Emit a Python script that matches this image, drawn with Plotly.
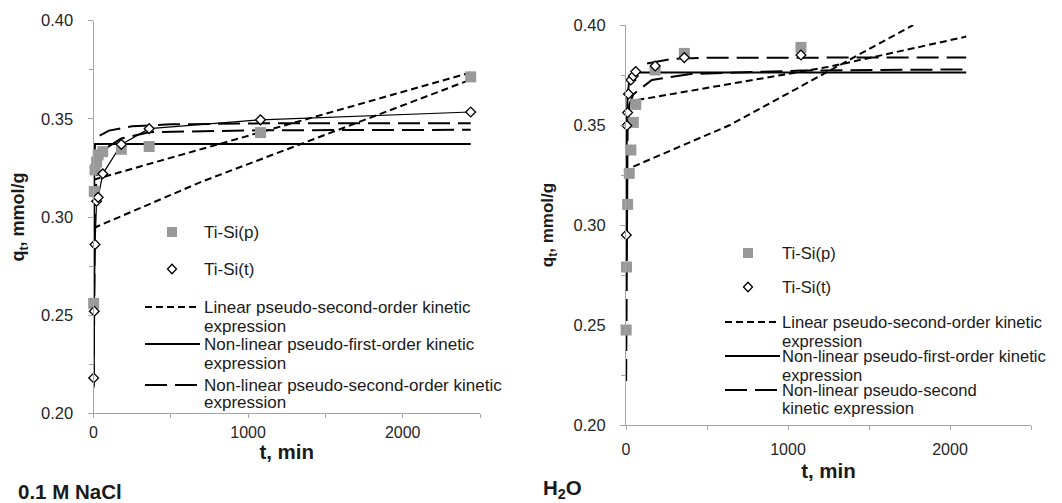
import plotly.graph_objects as go

# ---------------- data: 0.1 M NaCl (left panel) ----------------
tp_nacl = [1, 5, 10, 20, 30, 60, 180, 360, 1080, 2440]
qp_nacl = [0.256, 0.313, 0.324, 0.328, 0.3316, 0.3333, 0.3345, 0.3359, 0.343, 0.3714]
tt_nacl = [1, 5, 10, 20, 30, 60, 180, 360, 1080, 2440]
qt_nacl = [0.218, 0.252, 0.286, 0.308, 0.310, 0.322, 0.337, 0.345, 0.3495, 0.3535]

lin_a_t_nacl = [1, 1080, 2440]
lin_a_q_nacl = [0.319, 0.343, 0.3736]
lin_b_t_nacl = [1, 700, 2440]
lin_b_q_nacl = [0.2944, 0.318, 0.370]
pfo_t_nacl = [1, 3, 5, 10, 60, 360, 1080, 2440]
pfo_q_nacl = [0.213, 0.300, 0.330, 0.3372, 0.3372, 0.3372, 0.3372, 0.3372]
pso_a_t_nacl = [40, 100, 250, 500, 1080, 2440]
pso_a_q_nacl = [0.3415, 0.344, 0.3462, 0.3472, 0.3477, 0.3478]
pso_b_t_nacl = [1, 5, 10, 30, 60, 180, 360, 1080, 2440]
pso_b_q_nacl = [0.214, 0.28, 0.31, 0.328, 0.334, 0.340, 0.3432, 0.3442, 0.3444]

# ---------------- data: H2O (right panel) ----------------
tp_h2o = [1, 3, 10, 20, 30, 45, 60, 180, 360, 1080]
qp_h2o = [0.2475, 0.279, 0.3103, 0.3258, 0.3375, 0.3513, 0.3603, 0.3775, 0.3858, 0.3888]
tt_h2o = [2, 5, 10, 15, 30, 45, 60, 180, 360, 1080]
qt_h2o = [0.295, 0.3497, 0.3562, 0.3655, 0.3725, 0.3745, 0.3767, 0.3795, 0.3837, 0.385]

lin_a_t_h2o = [70, 1260, 2100]
lin_a_q_h2o = [0.3625, 0.3792, 0.3942]
lin_b_t_h2o = [45, 642, 1773]
lin_b_q_h2o = [0.3292, 0.350, 0.400]
pfo_t_h2o = [1, 3, 5, 10, 20, 30, 60, 360, 1080, 2100]
pfo_q_h2o = [0.305, 0.335, 0.350, 0.365, 0.372, 0.375, 0.3762, 0.3762, 0.3762, 0.3762]
pso_a_t_h2o = [130, 280, 500, 1080, 2100]
pso_a_q_h2o = [0.3808, 0.3830, 0.3836, 0.3838, 0.3838]
pso_b_t_h2o = [1, 3, 5, 10, 20, 45, 100, 160, 400, 1080, 2100]
pso_b_q_h2o = [0.222, 0.28, 0.32, 0.35, 0.36, 0.3653, 0.3688, 0.3725, 0.3755, 0.3772, 0.3778]

# ---------------- labels ----------------
series_names = ["Ti-Si(p)", "Ti-Si(t)"]
legend_text_left = [["Ti-Si(p)"], ["Ti-Si(t)"],
                    ["Linear pseudo-second-order kinetic", "expression"],
                    ["Non-linear pseudo-first-order kinetic", "expression"],
                    ["Non-linear pseudo-second-order kinetic", "expression"]]
legend_text_right = [["Ti-Si(p)"], ["Ti-Si(t)"],
                     ["Linear pseudo-second-order kinetic", "expression"],
                     ["Non-linear pseudo-first-order kinetic", "expression"],
                     ["Non-linear pseudo-second", "kinetic expression"]]
x_title = "t, min"
y_title = "q<sub>t</sub>, mmol/g"
panel_labels = ["0.1 M NaCl", "H<sub>2</sub>O"]

# ---------------- styles ----------------
PAGE_W, PAGE_H = 1062, 503
OFF = 8                      # default page margin around the plot div
W, H = PAGE_W - OFF, PAGE_H - OFF
FONT = "Liberation Sans, Arial, sans-serif"
GRAY_SQ = "#999999"
AXIS_C = "#a6a6a6"
SHORT_DASH = "7px,4px"
LONG_DASH = "22px,8px"
LW = 2

def px(x):
    return (x - OFF) / W

def py(y):
    return 1 - (y - OFF) / H

fig = go.Figure()

def add_panel(xa, ya, lines, tp, qp, tt, qt, connect_t):
    for (t, q, dash) in lines:
        fig.add_trace(go.Scatter(x=t, y=q, mode="lines", xaxis=xa, yaxis=ya,
                                 line=dict(color="black", width=LW, dash=dash),
                                 showlegend=False, hoverinfo="skip"))
    if connect_t:
        fig.add_trace(go.Scatter(x=tt, y=qt, mode="lines", xaxis=xa, yaxis=ya,
                                 line=dict(color="black", width=1.2),
                                 showlegend=False, hoverinfo="skip"))
    fig.add_trace(go.Scatter(x=tp, y=qp, mode="markers", xaxis=xa, yaxis=ya,
                             name=series_names[0], cliponaxis=False,
                             marker=dict(symbol="square", size=11, color=GRAY_SQ),
                             showlegend=False))
    fig.add_trace(go.Scatter(x=tt, y=qt, mode="markers", xaxis=xa, yaxis=ya,
                             name=series_names[1], cliponaxis=False,
                             marker=dict(symbol="diamond", size=7.5, color="white",
                                         line=dict(color="black", width=1.3)),
                             showlegend=False))

add_panel("x", "y",
          [(lin_a_t_nacl, lin_a_q_nacl, SHORT_DASH),
           (lin_b_t_nacl, lin_b_q_nacl, SHORT_DASH),
           (pfo_t_nacl, pfo_q_nacl, "solid"),
           (pso_a_t_nacl, pso_a_q_nacl, LONG_DASH),
           (pso_b_t_nacl, pso_b_q_nacl, LONG_DASH)],
          tp_nacl, qp_nacl, tt_nacl, qt_nacl, True)

add_panel("x2", "y2",
          [(lin_a_t_h2o, lin_a_q_h2o, SHORT_DASH),
           (lin_b_t_h2o, lin_b_q_h2o, SHORT_DASH),
           (pfo_t_h2o, pfo_q_h2o, "solid"),
           (pso_a_t_h2o, pso_a_q_h2o, LONG_DASH),
           (pso_b_t_h2o, pso_b_q_h2o, LONG_DASH)],
          tp_h2o, qp_h2o, tt_h2o, qt_h2o, False)

def xaxis_cfg(dom, anchor, standoff_lbl, title_standoff):
    return dict(domain=dom, anchor=anchor, range=[0, 2500], tick0=0, dtick=1000,
                tickformat="d", showline=True, linecolor=AXIS_C, linewidth=1,
                ticks="outside", ticklen=4, tickcolor=AXIS_C,
                minor=dict(dtick=500, ticks="outside", ticklen=4, tickcolor=AXIS_C),
                showgrid=False, zeroline=False, automargin=False,
                ticklabelstandoff=standoff_lbl,
                tickfont=dict(family=FONT, size=16, color="#262626"),
                title=dict(text=x_title, standoff=title_standoff,
                           font=dict(family=FONT, size=20.5, color="#1a1a1a", weight="bold")))

def yaxis_cfg(dom, anchor, tsize, title_standoff):
    return dict(domain=dom, anchor=anchor, range=[0.2, 0.4], tick0=0.2, dtick=0.05,
                tickformat=".2f", showline=True, linecolor=AXIS_C, linewidth=1,
                ticks="outside", ticklen=5, tickcolor=AXIS_C,
                minor=dict(dtick=0.025, ticks="outside", ticklen=4, tickcolor=AXIS_C),
                showgrid=False, zeroline=False, automargin=False, ticklabelstandoff=11,
                tickfont=dict(family=FONT, size=16.5, color="#262626"),
                title=dict(text=y_title, standoff=title_standoff,
                           font=dict(family=FONT, size=tsize, color="#1a1a1a", weight="bold")))

fig.update_layout(
    width=W, height=H, margin=dict(l=0, r=0, t=0, b=0, autoexpand=False),
    paper_bgcolor="white", plot_bgcolor="white", showlegend=False,
    xaxis=xaxis_cfg([px(93.5), px(480)], "y", 0, 0),
    yaxis=yaxis_cfg([py(413.3), py(20.7)], "x", 18, 15),
    xaxis2=xaxis_cfg([px(626), px(1031)], "y2", 6, 6),
    yaxis2=yaxis_cfg([py(425), py(25)], "x2", 17, 15),
)

shapes = []
annotations = []

def legend(entries, sym_x, txt_x, rows, line_x0, line_x1, fsize):
    kinds = ["square", "diamond", SHORT_DASH, "solid", LONG_DASH]
    for (lines_txt, kind, (y1, y2)) in zip(entries, kinds, rows):
        if kind == "square":
            shapes.append(dict(type="rect", xref="paper", yref="paper",
                               x0=px(sym_x - 5), x1=px(sym_x + 5),
                               y0=py(y1 + 5), y1=py(y1 - 5),
                               fillcolor=GRAY_SQ, line=dict(width=0)))
        elif kind == "diamond":
            path = "M{},{} L{},{} L{},{} L{},{} Z".format(
                px(sym_x - 4.5), py(y1), px(sym_x), py(y1 - 4.8),
                px(sym_x + 4.5), py(y1), px(sym_x), py(y1 + 4.8))
            shapes.append(dict(type="path", xref="paper", yref="paper", path=path,
                               fillcolor="white", line=dict(color="black", width=1.3)))
        else:
            shapes.append(dict(type="line", xref="paper", yref="paper",
                               x0=px(line_x0), x1=px(line_x1), y0=py(y1), y1=py(y1),
                               line=dict(color="black", width=LW, dash=kind)))
        for txt, yy in zip(lines_txt, [y1, y2]):
            annotations.append(dict(xref="paper", yref="paper", x=px(txt_x), y=py(yy),
                                    xanchor="left", yanchor="middle", showarrow=False,
                                    borderpad=0,
                                    text=txt, font=dict(family=FONT, size=fsize, color="#1a1a1a")))

legend(legend_text_left, 172, 203,
       [(232, None), (269, None), (307, 326), (344, 363), (385, 402)],
       145, 200, 17)
legend(legend_text_right, 748, 781,
       [(253, None), (287, None), (322, 341), (356, 375), (390, 408)],
       725, 780, 16.6)

annotations.append(dict(xref="paper", yref="paper", x=px(17), y=py(491),
                        xanchor="left", yanchor="middle", showarrow=False, borderpad=0,
                        text=panel_labels[0],
                        font=dict(family=FONT, size=20.5, color="#1a1a1a", weight="bold")))
annotations.append(dict(xref="paper", yref="paper", x=px(542), y=py(489),
                        xanchor="left", yanchor="middle", showarrow=False, borderpad=0,
                        text=panel_labels[1],
                        font=dict(family=FONT, size=20.5, color="#1a1a1a", weight="bold")))

fig.update_layout(shapes=shapes, annotations=annotations)
fig.write_html("out.html")
